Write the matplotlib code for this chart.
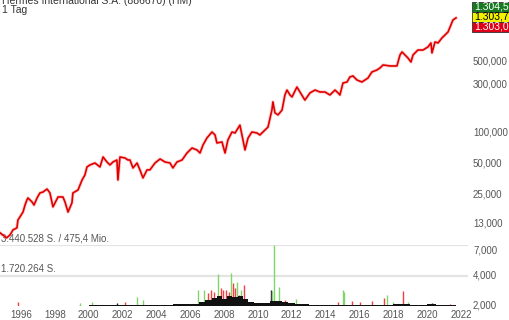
import matplotlib.pyplot as plt
from matplotlib.ticker import NullLocator
from matplotlib.patches import Rectangle

plt.rcParams['font.family'] = ['Liberation Sans', 'DejaVu Sans']

# price (EUR), daily chart sampled by eye
price_years = [1994.76, 1995.15, 1995.35, 1995.53, 1995.76, 1995.82, 1995.94, 1996.12, 1996.24, 1996.35,
               1996.41, 1996.65, 1996.77, 1996.95, 1997.12, 1997.30, 1997.54, 1997.71, 1997.89, 1998.01,
               1998.19, 1998.48, 1998.60, 1998.78, 1999.01, 1999.07, 1999.37, 1999.61, 1999.78, 1999.90,
               2000.08, 2000.37, 2000.67, 2000.85, 2001.08, 2001.26, 2001.44, 2001.67, 2001.73, 2001.85,
               2002.15, 2002.32, 2002.44, 2002.62, 2002.86, 2003.03, 2003.21, 2003.45, 2003.62, 2003.92,
               2004.22, 2004.51, 2004.81, 2004.98, 2005.22, 2005.52, 2005.81, 2006.11, 2006.40, 2006.58,
               2006.76, 2006.99, 2007.29, 2007.47, 2007.58, 2007.88, 2008.06, 2008.23, 2008.47, 2008.65,
               2008.94, 2009.06, 2009.24, 2009.42, 2009.65, 2009.95, 2010.12, 2010.42, 2010.60, 2010.83,
               2010.89, 2011.01, 2011.19, 2011.43, 2011.60, 2011.72, 2011.90, 2012.02, 2012.31, 2012.49,
               2012.78, 2013.08, 2013.38, 2013.67, 2013.97, 2014.26, 2014.56, 2014.74, 2014.85, 2015.03,
               2015.27, 2015.44, 2015.62, 2015.86, 2016.15, 2016.33, 2016.51, 2016.74, 2017.04, 2017.22,
               2017.40, 2017.81, 2018.22, 2018.40, 2018.52, 2018.70, 2018.87, 2019.05, 2019.17, 2019.46,
               2019.76, 2020.05, 2020.23, 2020.29, 2020.47, 2020.65, 2020.88, 2021.06, 2021.24, 2021.41,
               2021.53, 2021.71]
prices = [10.2, 9.1, 9.7, 10.9, 11.4, 13.6, 14.6, 16.3, 19.1, 21.4,
          22.4, 20.5, 19.1, 22.4, 25.1, 25.6, 27.4, 25.1, 18.3, 20.0,
          22.9, 22.9, 20.5, 16.3, 20.0, 25.1, 26.8, 33.6, 37.7, 45.1,
          47.2, 49.3, 45.1, 56.5, 50.5, 47.2, 50.5, 52.8, 33.6, 56.5,
          55.2, 52.8, 52.8, 44.1, 49.3, 42.2, 35.2, 42.2, 42.2, 49.3,
          54.0, 50.5, 49.3, 44.1, 50.5, 52.8, 61.8, 69.2, 66.2, 61.8,
          74.1, 86.8, 99.3, 92.8, 77.5, 79.3, 61.8, 83.0, 99.3, 97.1,
          116, 92.8, 66.2, 86.8, 99.3, 97.1, 92.8, 104, 111, 163,
          196, 153, 146, 163, 229, 256, 229, 219, 274, 245,
          204, 240, 256, 245, 245, 229, 256, 240, 229, 300,
          307, 344, 352, 321, 307, 321, 336, 385, 403, 422,
          451, 441, 441, 565, 605, 565, 528, 482, 565, 632,
          632, 677, 741, 592, 758, 741, 830, 888, 950, 1112,
          1245, 1304.5]

# volume (shares): dense base level and single spikes
mass_years = [1994.76, 1996.0, 1998.0, 2000.0, 2001.5, 2002.5, 2004.0, 2005.0, 2006.0, 2006.5,
              2006.9, 2007.3, 2007.6, 2007.9, 2008.2, 2008.5, 2008.8, 2009.1, 2009.4, 2009.8,
              2010.3, 2010.7, 2011.0, 2011.4, 2011.8, 2012.2, 2013.0, 2014.0, 2015.0, 2016.0,
              2017.0, 2018.0, 2019.0, 2020.0, 2020.5, 2021.0, 2021.71]
mass_vols = [50e3, 50e3, 50e3, 60e3, 70e3, 100e3, 90e3, 110e3, 130e3, 250e3,
             380e3, 480e3, 560e3, 430e3, 600e3, 520e3, 560e3, 400e3, 270e3, 180e3,
             210e3, 280e3, 330e3, 230e3, 170e3, 140e3, 90e3, 80e3, 100e3, 90e3,
             100e3, 110e3, 90e3, 110e3, 90e3, 80e3, 70e3]

spike_years = [1995.82, 1999.49, 2000.20, 2001.67, 2002.15, 2002.86, 2003.21,
               2006.46, 2006.82, 2007.05, 2007.23, 2007.41, 2007.64, 2007.82, 2007.94, 2008.12,
               2008.29, 2008.41, 2008.53, 2008.65, 2008.76, 2008.88, 2009.00, 2009.18,
               2010.78, 2010.83, 2010.95, 2011.25, 2011.60, 2011.72, 2012.25, 2014.74, 2015.03,
               2015.09, 2015.56, 2016.04, 2016.74, 2017.45, 2017.63, 2017.99, 2018.58, 2018.87,
               2020.29, 2021.35]
spike_vols = [247e3, 190e3, 247e3, 190e3, 247e3, 527e3, 360e3,
              919e3, 919e3, 750e3, 919e3, 807e3, 1820e3, 1030e3, 919e3, 919e3,
              807e3, 1870e3, 1310e3, 1030e3, 1370e3, 640e3, 919e3, 1200e3,
              919e3, 863e3, 3440528, 1090e3, 359e3, 247e3, 415e3, 247e3, 919e3,
              807e3, 303e3, 247e3, 303e3, 471e3, 639e3, 247e3, 863e3, 247e3,
              190e3, 134e3]
spike_colors = ['r', 'g', 'g', 'k', 'r', 'g', 'g',
                'g', 'g', 'r', 'r', 'r', 'g', 'r', 'r', 'r',
                'r', 'g', 'r', 'r', 'g', 'r', 'g', 'r',
                'k', 'g', 'g', 'g', 'r', 'r', 'g', 'r', 'g',
                'g', 'r', 'r', 'r', 'r', 'g', 'g', 'r', 'g',
                'k', 'r']

y_ticks = [2, 4, 7, 13, 25, 50, 100, 300, 500]
y_labels = ['2,000', '4,000', '7,000', '13,000', '25,000', '50,000', '100,000', '300,000', '500,000']
x_ticks = list(range(1996, 2023, 2))
vol_max = 3440528

W, H = 510, 320
fig = plt.figure(figsize=(W / 100, H / 100), dpi=100, facecolor='white')
xlim = (1994.76, 2022.42)
lab_color = '#555555'

# volume panel
axv = fig.add_axes([0, 13.6 / H, 468 / W, 61.4 / H])
axv.set_xlim(*xlim)
axv.set_ylim(0, vol_max)
axv.axis('off')
axv.axhline(vol_max, color='#e4e4e4', lw=1.6, zorder=0)
axv.axhline(vol_max / 2, color='#e4e4e4', lw=1.6, zorder=0)
axv.fill_between(mass_years, 0, mass_vols, step='post', color='#111111', lw=0, zorder=2)
cmap = {'g': '#7fd46a', 'r': '#f04040', 'k': '#222222'}
axv.vlines(spike_years, 0, spike_vols, colors=[cmap[c] for c in spike_colors], lw=1.0, zorder=1)
axv.text(0.002, 1.02, '3.440.528 S. / 475,4 Mio.', transform=axv.transAxes,
         ha='left', va='bottom', fontsize=7, color=lab_color)
axv.text(0.002, 0.52, '1.720.264 S.', transform=axv.transAxes,
         ha='left', va='bottom', fontsize=7, color=lab_color)

# price panel
ax = fig.add_axes([0, 13 / H, 468 / W, 307 / H])
ax.patch.set_alpha(0)
ax.set_yscale('log')
ax.set_xlim(*xlim)
ax.set_ylim(1.91, 1955)
ax.plot(price_years, prices, color='#ff9a9a', lw=2.4, alpha=0.5, solid_joinstyle='round')
ax.plot(price_years, prices, color='#e00000', lw=1.2, solid_joinstyle='round')
for s in ax.spines.values():
    s.set_visible(False)
ax.yaxis.tick_right()
ax.yaxis.set_minor_locator(NullLocator())
ax.set_yticks(y_ticks)
ax.set_yticklabels(y_labels)
ax.set_xticks(x_ticks)
ax.set_xticklabels([str(x) for x in x_ticks])
ax.tick_params(axis='both', length=0, labelsize=7, colors=lab_color)
ax.tick_params(axis='y', pad=3.6)
ax.tick_params(axis='x', pad=2)

# header
fig.text(2 / W, 1 - 4 / H, 'Hermes International S.A. (886670) (HM)', ha='left', va='baseline',
         fontsize=7.5, color='#333333')
fig.text(2 / W, 1 - 13 / H, '1 Tag', ha='left', va='baseline', fontsize=7.5, color='#333333')

# last price boxes
boxes = [('1.304,50', '#177a21', 'white', 1.5), ('1.303,75', '#f2f200', 'black', 11.5),
         ('1.303,00', '#dd0017', 'white', 21.5)]
for txt, fc, tc, top in boxes:
    fig.patches.append(Rectangle((472 / W, 1 - (top + 10) / H), 40 / W, 10 / H,
                                 transform=fig.transFigure, facecolor=fc, edgecolor='#333333', lw=0.6))
    fig.text(474 / W, 1 - (top + 5.2) / H, txt, ha='left', va='center', fontsize=7.5, color=tc)

fig.savefig('out.png', dpi=100)
